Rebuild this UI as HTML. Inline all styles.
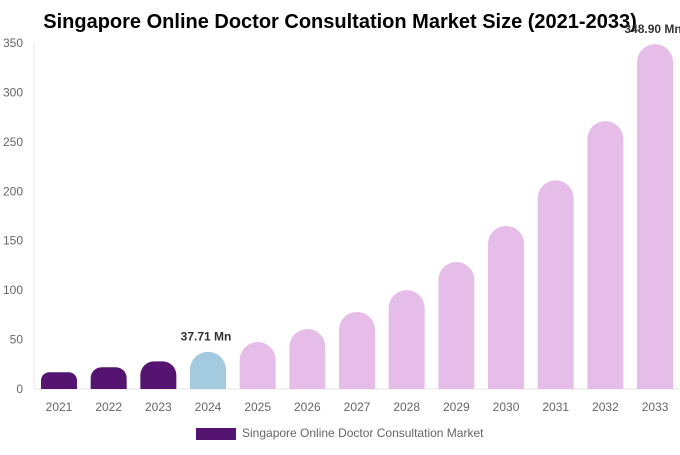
<!DOCTYPE html>
<html><head><meta charset="utf-8"><style>
body{margin:0;background:#fff;font-family:"Liberation Sans",sans-serif}
</style></head><body>
<svg id="c" width="680" height="450" xmlns="http://www.w3.org/2000/svg">
<text x="340" y="28" text-anchor="middle" font-size="20" font-weight="bold" fill="#000">Singapore Online Doctor Consultation Market Size (2021-2033)</text>
<g id="axes"></g><g id="bars"></g>
<rect x="196" y="428" width="40" height="12" fill="#541470"/>
<text x="242" y="437" font-size="12" fill="#666">Singapore Online Doctor Consultation Market</text>
</svg>
<script>
const years=["2021","2022","2023","2024","2025","2026","2027","2028","2029","2030","2031","2032","2033"];
const values=[17,22,28,37.71,47.5,60.7,78,100,128.5,165,211,271,348.9];
const colorKinds=["hist","hist","hist","base","fc","fc","fc","fc","fc","fc","fc","fc","fc"];
const yTicks=[0,50,100,150,200,250,300,350];
const labels={3:"37.71 Mn",12:"348.90 Mn"};
const NS="http://www.w3.org/2000/svg";
const y0=389,yTop=43,x0=34,x1=680,step=49.67,first=59,bw=36;
const ys=v=>y0-(v/350)*(y0-yTop);
const xs=i=>first+i*step;
const ax=document.getElementById('axes'),bg=document.getElementById('bars');
function mk(t,a,p){const e=document.createElementNS(NS,t);for(const k in a)e.setAttribute(k,a[k]);p.appendChild(e);return e;}
let l=mk('line',{x1:x0,y1:yTop,x2:x0,y2:y0,stroke:'#e6e6e6'},ax);


l=mk('line',{x1:x0,y1:y0,x2:x1,y2:y0,stroke:'#e6e6e6'},ax);


yTicks.forEach(t=>{const e=mk('text',{x:23,y:ys(t)+4,'text-anchor':'end','font-size':12,fill:'#666'},ax);e.textContent=t;

});
const col={hist:'#541470',base:'#a4cadf',fc:'#e6bde8'};
years.forEach((yr,i)=>{const v=values[i],top=ys(v),h=y0-top,x=xs(i)-bw/2,r=Math.min(bw/2,h/2);
const d=`M${x},${y0}V${top+r}A${r},${r} 0 0 1 ${x+r},${top}H${x+bw-r}A${r},${r} 0 0 1 ${x+bw},${top+r}V${y0}Z`;
const p=mk('path',{d:d,fill:col[colorKinds[i]]},bg);


const t=mk('text',{x:xs(i),y:411,'text-anchor':'middle','font-size':12,fill:'#666'},ax);t.textContent=yr;


if(labels[i]){const lb=mk('text',{x:xs(i)-2,y:top-11,'text-anchor':'middle','font-size':12,'font-weight':'bold',fill:'#333'},bg);lb.textContent=labels[i];

}
});
</script>
</body></html>
